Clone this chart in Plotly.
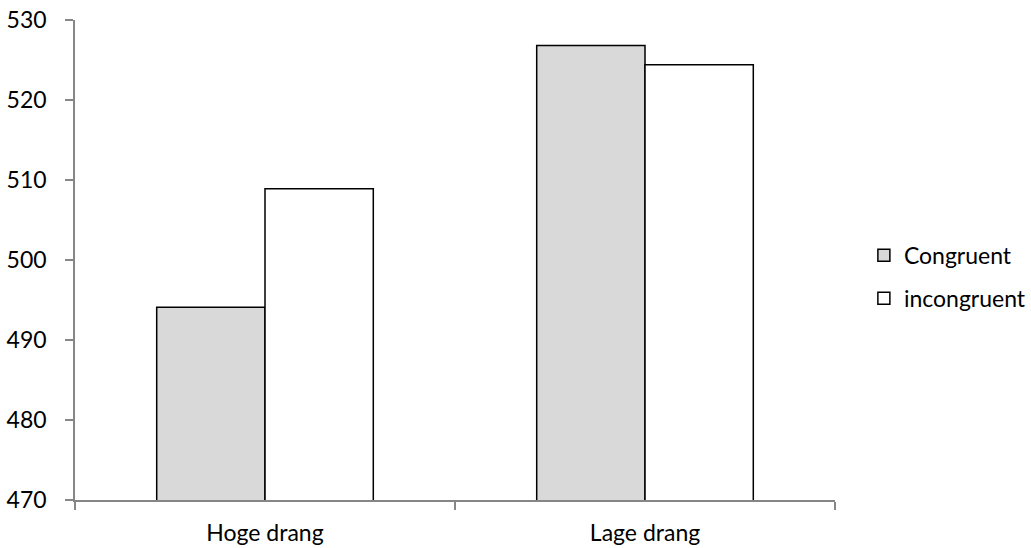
import plotly.graph_objects as go

categories = ["Hoge drang", "Lage drang"]
congruent = [494.1, 526.8]
incongruent = [508.9, 524.4]
y_ticks = [470, 480, 490, 500, 510, 520, 530]

FONT = "Lato, Liberation Sans, sans-serif"
AXIS = "#868686"
FS = 23

fig = go.Figure()
fig.add_trace(go.Bar(
    x=categories, y=congruent, name="Congruent", legendgroup="a",
    marker=dict(color="#d9d9d9", line=dict(color="black", width=1.5)),
))
fig.add_trace(go.Bar(
    x=categories, y=incongruent, name="incongruent", legendgroup="b",
    marker=dict(color="white", line=dict(color="black", width=1.5)),
))

fig.update_layout(
    width=1031, height=548,
    margin=dict(l=75, r=196, t=20, b=48, autoexpand=False),
    paper_bgcolor="white", plot_bgcolor="white",
    barmode="group", bargap=0.43, bargroupgap=0,
    font=dict(family=FONT, size=FS, color="black"),
    showlegend=True,
    legend=dict(x=1.038, xanchor="left", y=0.465, yanchor="middle",
                font=dict(size=FS), tracegroupgap=10, traceorder="grouped",
                itemwidth=30, bgcolor="rgba(0,0,0,0)"),
)
fig.update_xaxes(
    showline=True, linecolor=AXIS, linewidth=1.5, automargin=False,
    ticks="outside", tickson="boundaries", ticklen=8, tickcolor=AXIS, tickwidth=1.5,
    showgrid=False, tickfont=dict(size=FS), ticklabelstandoff=12,
)
fig.update_yaxes(
    range=[470, 530], tickvals=y_ticks, ticktext=[str(v) for v in y_ticks],
    showline=True, linecolor=AXIS, linewidth=1.5, automargin=False,
    ticks="outside", ticklen=8, tickcolor=AXIS, tickwidth=1.5,
    showgrid=False, zeroline=False, tickfont=dict(size=FS), ticklabelstandoff=14,
)

fig.write_html("out.html")
